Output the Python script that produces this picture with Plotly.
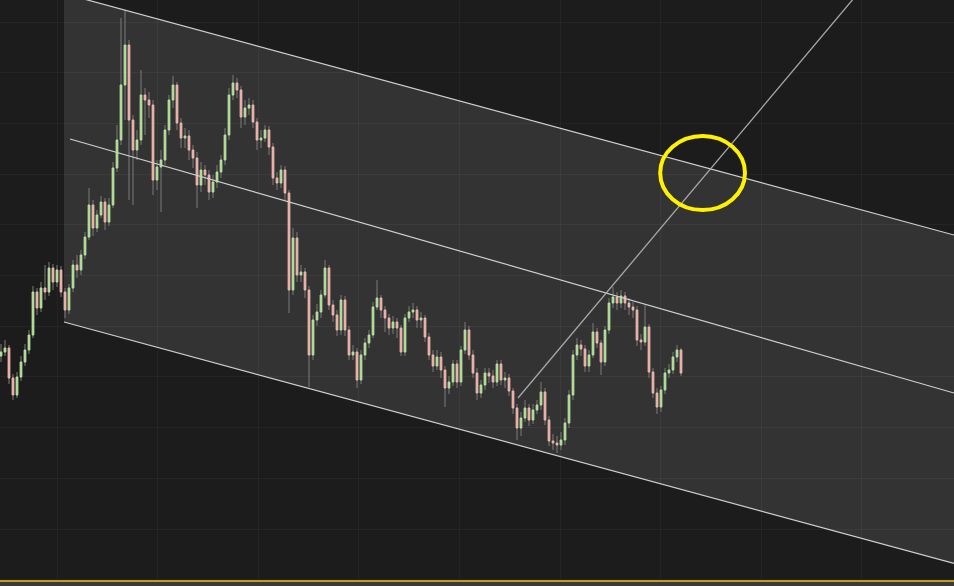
import plotly.graph_objects as go

# ---- price data (one bar per index) ----
first_open = 1644
close = [1648,1652,1622,1605,1623,1638,1650,1665,1708,1692,1712,1708,1732,1718,1730,1708,1690,1712,1735,1730,
         1745,1763,1795,1772,1785,1798,1778,1795,1832,1860,1915,1955,1880,1850,1860,1905,1900,1895,1820,1833,
         1840,1870,1900,1915,1877,1862,1864,1850,1842,1815,1830,1825,1808,1818,1828,1840,1865,1905,1917,1910,
         1883,1892,1895,1878,1860,1862,1870,1853,1822,1817,1830,1807,1710,1762,1725,1728,1710,1645,1680,1688,
         1705,1732,1695,1685,1670,1700,1670,1645,1648,1620,1645,1657,1665,1693,1702,1690,1682,1672,1678,1672,
         1648,1682,1688,1690,1680,1682,1663,1645,1634,1643,1630,1612,1618,1636,1618,1650,1670,1645,1627,1607,
         1615,1627,1624,1618,1636,1620,1622,1609,1592,1572,1582,1592,1580,1590,1595,1608,1580,1559,1557,1555,
         1560,1577,1605,1645,1655,1651,1634,1645,1668,1657,1638,1670,1697,1703,1697,1704,1697,1693,1690,1660,
         1658,1673,1628,1607,1593,1610,1627,1630,1643,1650,1627]
high = [1656,1660,1655,1626,1628,1644,1656,1670,1714,1712,1718,1735,1738,1736,1735,1734,1712,1716,1740,1745,
        1750,1768,1812,1800,1790,1804,1802,1802,1838,1875,1982,1990,1960,1885,1870,1930,1912,1908,1900,1840,
        1850,1875,1905,1924,1918,1882,1872,1870,1855,1848,1838,1835,1830,1825,1835,1845,1872,1912,1925,1922,
        1914,1900,1902,1900,1882,1870,1875,1874,1857,1828,1835,1834,1810,1772,1768,1735,1732,1714,1685,1696,
        1710,1740,1735,1700,1690,1705,1704,1674,1655,1652,1650,1662,1670,1698,1720,1705,1694,1686,1684,1682,
        1675,1686,1694,1697,1694,1688,1685,1667,1650,1650,1648,1634,1624,1640,1640,1654,1678,1674,1650,1632,
        1620,1632,1632,1630,1640,1640,1628,1626,1612,1596,1588,1600,1596,1596,1600,1618,1612,1584,1566,1564,
        1568,1582,1610,1650,1662,1660,1655,1650,1677,1672,1660,1674,1702,1713,1708,1710,1708,1702,1698,1694,
        1666,1695,1676,1632,1612,1614,1632,1636,1648,1655,1652]
low = [1638,1644,1616,1600,1602,1619,1634,1646,1662,1685,1688,1700,1704,1710,1713,1703,1682,1686,1708,1722,
       1725,1741,1760,1764,1768,1782,1770,1774,1792,1828,1855,1880,1800,1795,1840,1855,1865,1882,1805,1810,
       1788,1835,1865,1892,1870,1852,1852,1840,1832,1792,1808,1815,1800,1802,1812,1822,1835,1860,1900,1902,
       1872,1875,1885,1872,1850,1852,1858,1845,1815,1810,1812,1800,1687,1705,1718,1718,1702,1613,1640,1674,
       1682,1702,1690,1678,1664,1665,1664,1640,1640,1612,1616,1640,1652,1662,1690,1682,1668,1665,1666,1662,
       1644,1644,1678,1682,1672,1672,1658,1640,1628,1630,1622,1593,1606,1614,1612,1614,1646,1640,1622,1600,
       1602,1610,1617,1612,1614,1615,1612,1604,1586,1560,1564,1578,1574,1576,1586,1590,1575,1554,1550,1547,
       1550,1555,1572,1600,1640,1644,1628,1628,1642,1652,1625,1634,1666,1692,1690,1692,1690,1685,1682,1654,
       1650,1654,1622,1602,1586,1588,1606,1622,1626,1638,1624]
open_ = [first_open] + close[:-1]
bars = list(range(len(close)))

# ---- drawings (bar index, price) ----
channel_upper = [(15.75, 2006.4), (238.25, 1765.0)]
channel_lower = [(15.75, 1678.0), (238.25, 1436.6)]
channel_mid = [(17.25, 1861.0), (238.25, 1607.0)]
rising_line = [(129.25, 1602.0), (238.25, 2121.0)]
highlight_center = (175.4, 1827.0)
highlight_radius = (10.6, 37.0)

x_range = [-0.25, 238.25]
y_range = [1419, 2000]

body_hi = [max(o, c) for o, c in zip(open_, close)]
body_lo = [min(o, c) for o, c in zip(open_, close)]

fig = go.Figure()
# wicks (grey)
fig.add_trace(go.Candlestick(
    x=bars, open=open_, high=high, low=low, close=close,
    increasing=dict(line=dict(color="#7c7c7c", width=1), fillcolor="#7c7c7c"),
    decreasing=dict(line=dict(color="#7c7c7c", width=1), fillcolor="#7c7c7c"),
    hoverinfo="skip", showlegend=False))
# coloured bodies
fig.add_trace(go.Candlestick(
    x=bars, open=open_, high=body_hi, low=body_lo, close=close,
    increasing=dict(line=dict(color="#b2e39a", width=1), fillcolor="#b2e39a"),
    decreasing=dict(line=dict(color="#f0b4ab", width=1), fillcolor="#f0b4ab"),
    hoverinfo="skip", showlegend=False))

u0, u1 = channel_upper
l0, l1 = channel_lower
fig.add_shape(type="path", xref="x", yref="y", layer="below",
              path=f"M {u0[0]},{u0[1]} L {u1[0]},{u1[1]} L {l1[0]},{l1[1]} L {l0[0]},{l0[1]} Z",
              fillcolor="#333333", line=dict(width=0))
for seg, col, w in [(channel_upper, "#cfcfcf", 1.2), (channel_lower, "#cfcfcf", 1.2),
                    (channel_mid, "#cfcfcf", 1.2), (rising_line, "#a8a8a8", 1.3)]:
    fig.add_shape(type="line", xref="x", yref="y", layer="above",
                  x0=seg[0][0], y0=seg[0][1], x1=seg[1][0], y1=seg[1][1],
                  line=dict(color=col, width=w))
cx, cy = highlight_center
rx, ry = highlight_radius
fig.add_shape(type="circle", xref="x", yref="y", layer="above",
              x0=cx - rx, x1=cx + rx, y0=cy - ry, y1=cy + ry,
              line=dict(color="#fff200", width=4))
# bottom accent line of the pane
fig.add_shape(type="line", xref="paper", yref="paper", layer="above",
              x0=0, x1=1, y0=0, y1=0, line=dict(color="#f2c31a", width=1.5))

fig.update_layout(
    width=954, height=586,
    margin=dict(l=0, r=0, t=0, b=5),
    paper_bgcolor="#3a3a3a", plot_bgcolor="#1c1c1c",
    showlegend=False, boxmode="overlay", boxgap=0.45, boxgroupgap=0.3,
    xaxis=dict(range=x_range, rangeslider=dict(visible=False), showticklabels=False,
               showgrid=True, gridcolor="rgba(255,255,255,0.04)", tick0=14.0, dtick=25.15,
               zeroline=False, showline=False, ticks=""),
    yaxis=dict(range=y_range, showticklabels=False, showgrid=True,
               gridcolor="rgba(255,255,255,0.04)", tick0=1978, dtick=50.7,
               zeroline=False, showline=False, ticks=""),
)
fig.write_html("out.html", config={"displayModeBar": False},
               post_script="document.body.style.margin='0';document.body.style.overflow='hidden';")
